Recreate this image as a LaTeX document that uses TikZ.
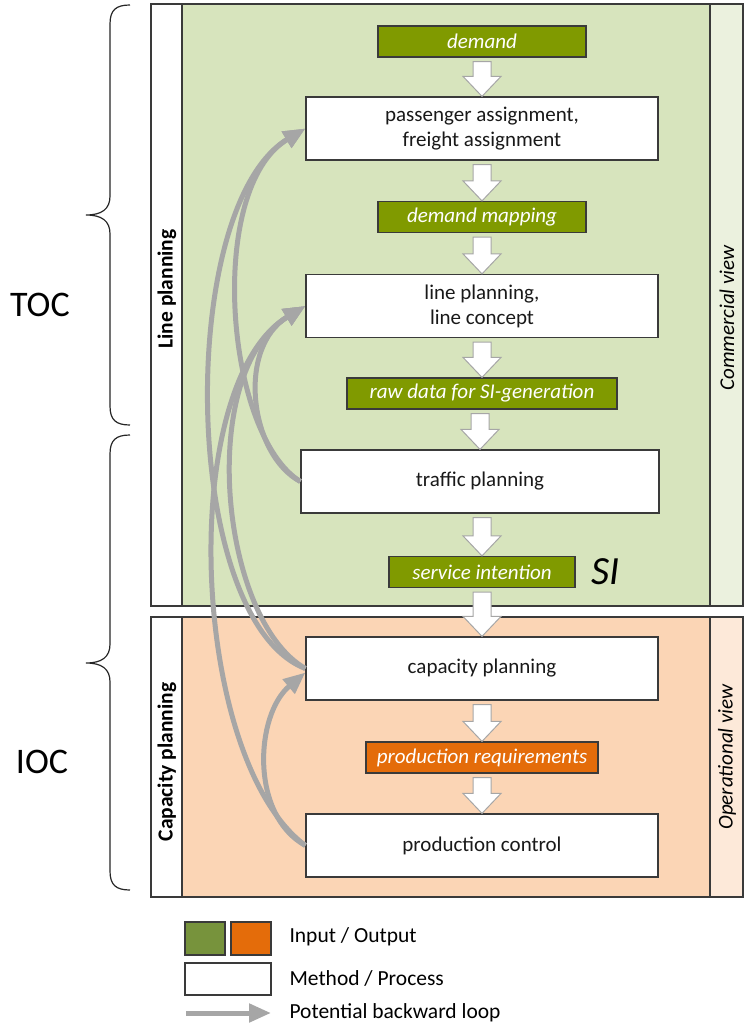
\documentclass[tikz,border=0pt]{standalone}
\usepackage{fontspec}
\setmainfont{Carlito}
\usetikzlibrary{arrows.meta,calc}

\definecolor{olivebox}{HTML}{809A00}
\definecolor{orangebox}{HTML}{E46C0A}
\definecolor{greenpanel}{HTML}{D7E4BD}
\definecolor{orangepanel}{HTML}{FBD5B5}
\definecolor{greenstrip}{HTML}{EBF1DE}
\definecolor{orangestrip}{HTML}{FDE9D9}
\definecolor{loopgrey}{HTML}{A6A6A6}
\definecolor{legendgreen}{HTML}{77933C}
\definecolor{framegrey}{HTML}{3A3A3A}

\tikzset{
  process/.style={draw=framegrey, line width=1.2pt, fill=white,
    minimum width=352pt, minimum height=63pt, inner sep=0pt,
    align=center, text=black!90, font=\fontsize{21}{25}\selectfont},
  databox/.style={draw=framegrey, line width=1.2pt, fill=olivebox,
    minimum height=31pt, inner sep=0pt, text=white,
    font=\fontsize{21}{24}\selectfont\itshape},
  backloop/.style={draw=loopgrey, line width=5pt,
    -{Triangle[length=22pt,width=18pt]}},
  blockarrow/.style={draw=loopgrey, line width=1pt, fill=white},
  bracepen/.style={draw=black!85, line width=1.2pt},
  panelframe/.style={draw=framegrey, line width=1.5pt},
  sidelabel/.style={rotate=90, font=\fontsize{21.5}{25}\selectfont\bfseries},
  viewlabel/.style={rotate=90, font=\fontsize{21}{25}\selectfont\itshape},
  legendtext/.style={anchor=west, font=\fontsize{21.5}{25}\selectfont}
}

% white block arrow pointing down from one box to the next
\newcommand\flowdown[2]{%
  \draw[blockarrow] let \p1=(#1.south), \p2=(#2.north) in
    (\x2-9pt,\y1-4pt) -- (\x2+9pt,\y1-4pt) -- (\x2+9pt,\y2+20pt)
    -- (\x2+19pt,\y2+20pt) -- (\x2,\y2) -- (\x2-19pt,\y2+20pt)
    -- (\x2-9pt,\y2+20pt) -- cycle;}

\begin{document}
\begin{tikzpicture}[x=1pt,y=-1pt]
\useasboundingbox (0,0) rectangle (744,1027);

% panels
\fill[white] (151,4) rectangle (182,606);
\fill[greenpanel] (182,4) rectangle (710,606);
\fill[greenstrip] (710,4) rectangle (743,606);
\draw[panelframe] (151,4) rectangle (743,606) (182,4) -- (182,606) (710,4) -- (710,606);

\fill[white] (151,617) rectangle (182,897);
\fill[orangepanel] (182,617) rectangle (710,897);
\fill[orangestrip] (710,617) rectangle (743,897);
\draw[panelframe] (151,617) rectangle (743,897) (182,617) -- (182,897) (710,617) -- (710,897);

\node[sidelabel] (linepl) at (167,289) {Line planning};
\node[sidelabel] (cappl) at (167,762) {Capacity planning};
\node[viewlabel] (commv) at (727,318) {Commercial view};
\node[viewlabel] (operv) at (727,757) {Operational view};

% braces
\draw[bracepen] (130,5) .. controls (116,5) and (110,10) .. (110,24) -- (110,196)
  .. controls (110,209) and (102,215) .. (86,215)
  .. controls (102,215) and (110,221) .. (110,234) -- (110,406)
  .. controls (110,420) and (116,425) .. (130,425);
\draw[bracepen] (130,435) .. controls (116,435) and (110,440) .. (110,454) -- (110,644)
  .. controls (110,657) and (102,663) .. (86,663)
  .. controls (102,663) and (110,669) .. (110,682) -- (110,871)
  .. controls (110,885) and (116,890) .. (130,890);
\node[font=\fontsize{36}{40}\selectfont] (toc) at (40,305) {TOC};
\node[font=\fontsize{36}{40}\selectfont] (ioc) at (42,762) {IOC};

% process chain
\node[databox, minimum width=208pt] (demand) at (482,41.5) {demand};
\node[process] (pa) at (482,128.5) {passenger assignment,\\freight assignment};
\node[databox, minimum width=208pt] (dm) at (482,217) {demand mapping};
\node[process] (lp) at (482,306) {line planning,\\line concept};
\node[databox, minimum width=270pt] (raw) at (482,393.5) {raw data for SI-generation};
\node[process, minimum width=358pt] (tp) at (480,481.5) {traffic planning};
\node[databox, minimum width=186pt] (si) at (482,572) {service intention};
\node[font=\fontsize{40}{44}\selectfont\itshape, anchor=west] (silabel) at (588,572) {SI};
\node[process] (cp) at (482,668.5) {capacity planning};
\node[databox, fill=orangebox, minimum width=232pt] (pr) at (482,757.5) {production requirements};
\node[process] (pc) at (482,845.5) {production control};

\flowdown{demand}{pa}
\flowdown{pa}{dm}
\flowdown{dm}{lp}
\flowdown{lp}{raw}
\flowdown{raw}{tp}
\flowdown{tp}{si}
\flowdown{si}{cp}
\flowdown{cp}{pr}
\flowdown{pr}{pc}

% backward loops
\draw[backloop] (tp.west) .. controls (225,435) and (206,188) .. (pa.west);
\draw[backloop] (cp.west) .. controls (180,620) and (176,206) .. (pa.west);
\draw[backloop] (tp.west) .. controls (250,455) and (236,348) .. (lp.west);
\draw[backloop] (cp.west) .. controls (220,620) and (196,372) .. (lp.west);
\draw[backloop] (pc.west) .. controls (190,760) and (176,384) .. (lp.west);
\draw[backloop] (pc.west) .. controls (250,815) and (255,715) .. ([yshift=-4pt]cp.west);

% legend
\node[draw=framegrey, line width=1.2pt, fill=legendgreen, minimum width=40pt, minimum height=33pt, inner sep=0pt] (lg) at (205,938.5) {};
\node[draw=framegrey, line width=1.2pt, fill=orangebox, minimum width=40pt, minimum height=33pt, inner sep=0pt] (lo) at (251,938.5) {};
\node[draw=framegrey, line width=1.2pt, fill=white, minimum width=86pt, minimum height=32pt, inner sep=0pt] (lw) at (228,979) {};
\coordinate (la0) at (186,1013);
\coordinate (la1) at (271,1013);
\draw[backloop] (la0) -- (la1);
\node[legendtext] (t1) at (286,937) {Input / Output};
\node[legendtext] (t2) at (286,978) {Method / Process};
\node[legendtext] (t3) at (286,1013) {Potential backward loop};
\end{tikzpicture}
\end{document}
